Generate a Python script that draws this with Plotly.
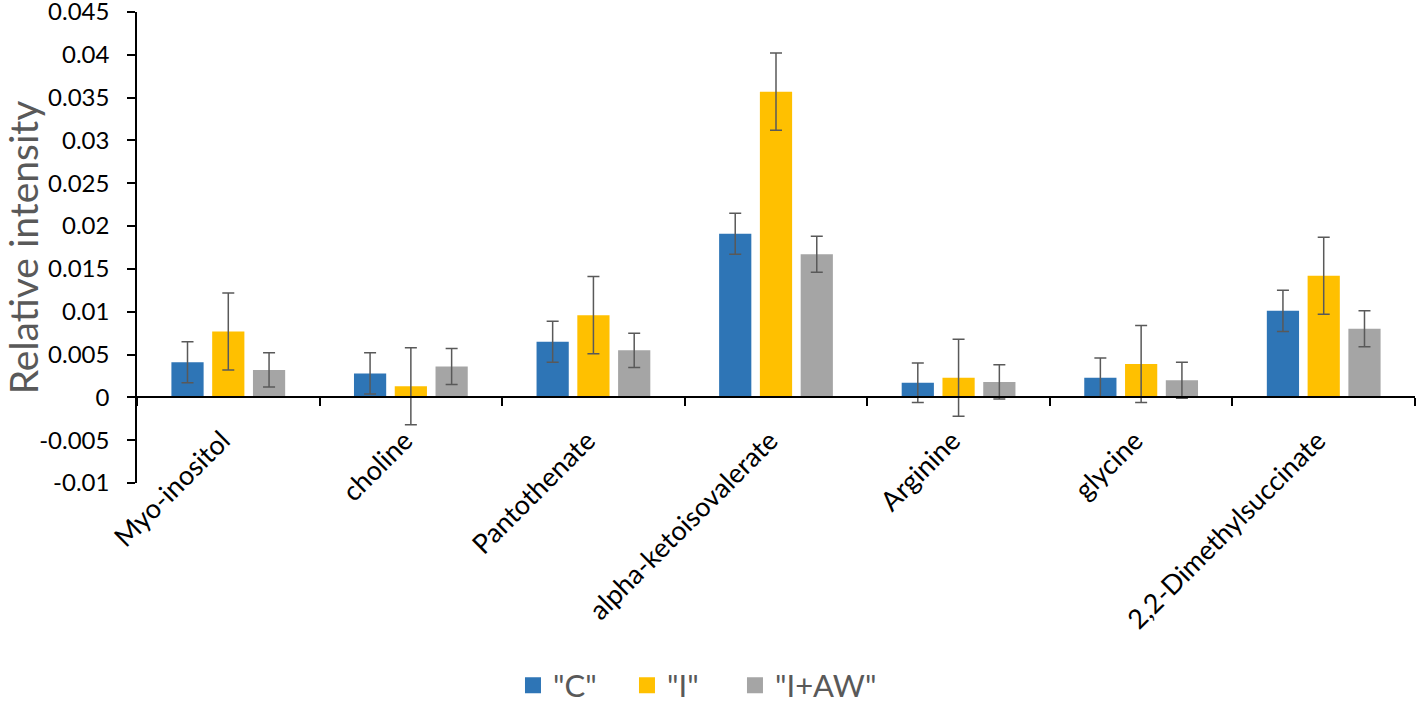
import plotly.graph_objects as go

categories = ["Myo-inositol", "choline", "Pantothenate", "alpha-ketoisovalerate",
              "Arginine", "glycine", "2,2-Dimethylsuccinate"]
series_names = ['"C"', '"I"', '"I+AW"']
c_values = [0.0041, 0.0028, 0.0065, 0.0191, 0.0017, 0.0023, 0.0101]
i_values = [0.0077, 0.0013, 0.0096, 0.0357, 0.0023, 0.0039, 0.0142]
aw_values = [0.0032, 0.0036, 0.0055, 0.0167, 0.0018, 0.0020, 0.0080]
c_err = [0.0024, 0.0024, 0.0024, 0.0024, 0.0023, 0.0023, 0.0024]
i_err = [0.0045, 0.0045, 0.0045, 0.0045, 0.0045, 0.0045, 0.0045]
aw_err = [0.0020, 0.0021, 0.0020, 0.0021, 0.0020, 0.0021, 0.0021]
colors = ["#2E75B6", "#FFC000", "#A5A5A5"]
y_ticks = [-0.01, -0.005, 0, 0.005, 0.01, 0.015, 0.02, 0.025, 0.03, 0.035, 0.04, 0.045]
y_tick_text = ["-0.01", "-0.005", "0", "0.005", "0.01", "0.015", "0.02", "0.025",
               "0.03", "0.035", "0.04", "0.045"]
y_range = [-0.01, 0.0450001]

FONT = "Lato"
legend_ids = ["legend", "legend2", "legend3"]
legend_x = [0.2942, 0.3834, 0.4679]

fig = go.Figure()

for name, vals, errs, col, lid in zip(series_names, [c_values, i_values, aw_values],
                                      [c_err, i_err, aw_err], colors, legend_ids):
    fig.add_trace(go.Bar(
        x=categories, y=vals, name=name, marker=dict(color=col, line=dict(width=0)),
        error_y=dict(type="data", array=errs, visible=True, color="#595959",
                     thickness=1.5, width=6),
        showlegend=False,
    ))
    # legend proxy with a larger square symbol
    fig.add_trace(go.Scatter(
        x=[None], y=[None], mode="markers", name=name, legend=lid,
        marker=dict(symbol="square", size=20, color=col), showlegend=True,
    ))

# category axis drawn along the zero line (labels + boundary ticks)
fig.add_trace(go.Scatter(
    x=categories, y=[0] * len(categories), xaxis="x2", mode="markers",
    marker=dict(opacity=0, size=1), showlegend=False, hoverinfo="skip",
))

zero_pos = (0 - y_range[0]) / (y_range[1] - y_range[0])

legend_style = dict(
    orientation="h", xanchor="left", y=-0.43, yanchor="middle",
    font=dict(size=31, color="#595959", family=FONT),
    itemsizing="trace", bgcolor="rgba(0,0,0,0)",
)

fig.update_layout(
    width=1418, height=703,
    paper_bgcolor="white", plot_bgcolor="white",
    margin=dict(l=137, r=3, t=12, b=220, autoexpand=False),
    barmode="group", bargap=0.33, bargroupgap=0.21,
    font=dict(family=FONT, color="#000000"),
    xaxis=dict(
        type="category", range=[-0.5, len(categories) - 0.5], automargin=False,
        showline=False, showgrid=False, zeroline=False, ticks="",
        showticklabels=False,
    ),
    xaxis2=dict(
        type="category", categoryorder="array", categoryarray=categories,
        overlaying="x", anchor="free", position=zero_pos, side="bottom",
        range=[-0.5, len(categories) - 0.5], showgrid=False, zeroline=False,
        automargin=False,
        showline=True, linecolor="#000000", linewidth=1.5,
        tickson="boundaries", ticks="outside", ticklen=8,
        tickwidth=1.5, tickcolor="#000000",
        tickangle=-45, tickfont=dict(size=27, color="#000000", family=FONT),
        ticklabelstandoff=16, ticklabelshift=-6,
    ),
    yaxis=dict(
        domain=[0, 1], range=y_range, tickmode="array", tickvals=y_ticks,
        ticktext=y_tick_text, showgrid=False, zeroline=False, automargin=False,
        showline=True, linecolor="#000000", linewidth=1.5,
        ticks="outside", ticklen=8, tickwidth=1.5, tickcolor="#000000",
        tickfont=dict(size=24, color="#000000", family=FONT),
        ticklabelstandoff=13, ticklabeloverflow="allow",
        title=dict(text="Relative intensity", font=dict(size=39, color="#595959", family=FONT),
                   standoff=10),
    ),
    legend=dict(x=legend_x[0], **legend_style),
    legend2=dict(x=legend_x[1], **legend_style),
    legend3=dict(x=legend_x[2], **legend_style),
)

fig.write_html("out.html", post_script="document.body.style.margin='0';",
               config={"displayModeBar": False})
